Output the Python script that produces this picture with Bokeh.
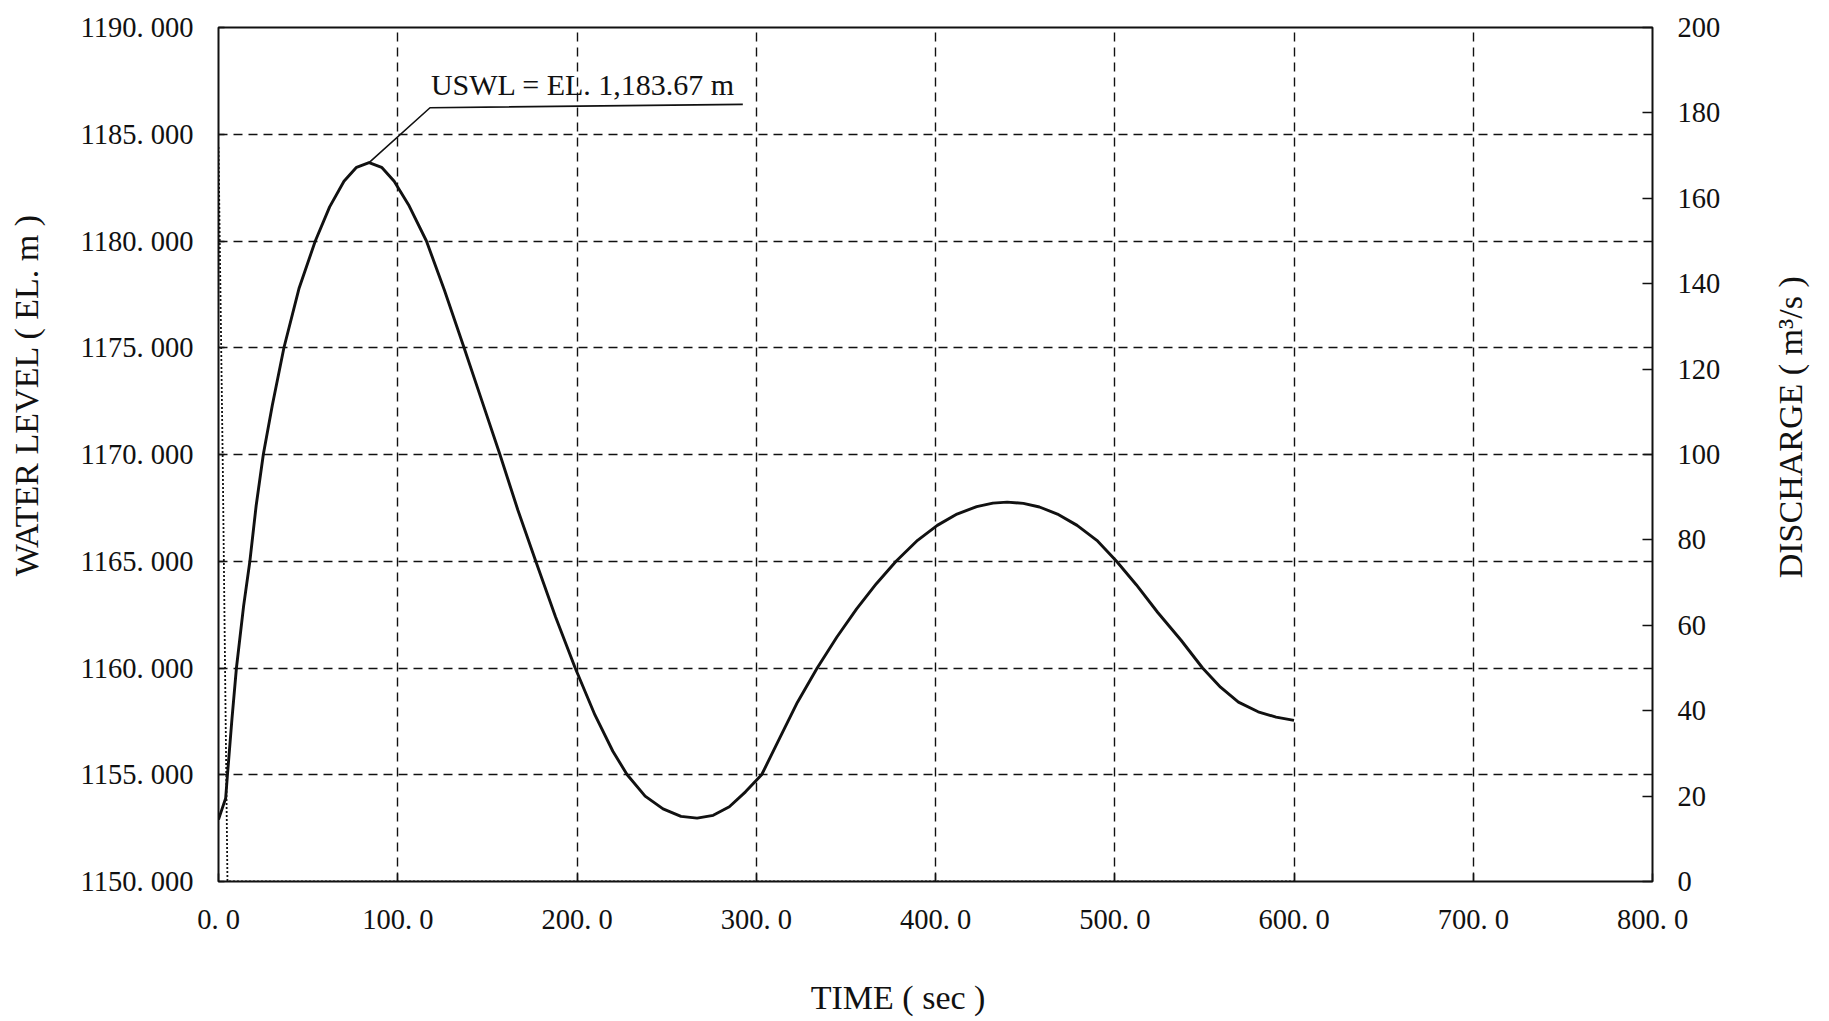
import math

from bokeh.core.properties import value
from bokeh.embed import file_html
from bokeh.layouts import row
from bokeh.models import FixedTicker, Label, LinearAxis, Range1d
from bokeh.plotting import figure
from bokeh.resources import INLINE

# Surge tank water level after load rejection (time in seconds, elevation in m)
time_s = [0, 2, 4, 5, 7.5, 10, 14, 17.5, 21, 25, 30, 36.5, 45, 54, 62, 70, 77, 84,
          91, 98, 106, 116, 126, 137, 147, 157, 167, 177, 188, 199, 210, 220, 228,
          238, 248, 258, 267, 276, 285, 294, 303, 313, 323, 334, 345, 356, 367, 378,
          390, 401, 412, 423, 432, 440, 449, 458, 468, 479, 490, 501, 512, 524, 537,
          549, 559, 569, 580, 590, 600]
water_level = [1152.9, 1153.4, 1153.9, 1155.0, 1157.6, 1160.0, 1162.9, 1165.0, 1167.6,
               1170.0, 1172.3, 1175.0, 1177.8, 1180.0, 1181.6, 1182.8, 1183.45, 1183.67,
               1183.45, 1182.8, 1181.7, 1180.0, 1177.7, 1175.0, 1172.5, 1170.0, 1167.4,
               1165.0, 1162.4, 1160.0, 1157.8, 1156.1, 1155.0, 1154.0, 1153.4, 1153.05,
               1152.97, 1153.1, 1153.5, 1154.2, 1155.0, 1156.7, 1158.4, 1160.0, 1161.45,
               1162.77, 1163.95, 1165.0, 1165.98, 1166.68, 1167.21, 1167.56, 1167.72,
               1167.77, 1167.71, 1167.54, 1167.21, 1166.68, 1165.98, 1165.0, 1163.9,
               1162.6, 1161.3, 1160.0, 1159.1, 1158.4, 1157.95, 1157.7, 1157.55]

# Turbine discharge during closure (m3/s)
q_time = [0, 2.4, 5, 600]
discharge = [172, 97, 0, 0]

x_ticks = [0, 100, 200, 300, 400, 500, 600, 700, 800]
x_tick_labels = ["0. 0", "100. 0", "200. 0", "300. 0", "400. 0", "500. 0",
                 "600. 0", "700. 0", "800. 0"]
level_ticks = [1150, 1155, 1160, 1165, 1170, 1175, 1180, 1185, 1190]
level_tick_labels = ["1150. 000", "1155. 000", "1160. 000", "1165. 000", "1170. 000",
                     "1175. 000", "1180. 000", "1185. 000", "1190. 000"]
q_ticks = [0, 20, 40, 60, 80, 100, 120, 140, 160, 180, 200]
q_tick_labels = ["0", "20", "40", "60", "80", "100", "120", "140", "160", "180", "200"]

FONT = "Liberation Serif"
INK = "#111111"

p = figure(frame_width=1434, frame_height=854,
           x_range=Range1d(0, 800), y_range=Range1d(1150, 1190),
           output_backend="svg", toolbar_location=None,
           min_border_left=218, min_border_right=107,
           min_border_top=27, min_border_bottom=140,
           background_fill_color="white", border_fill_color="white")
p.extra_y_ranges = {"q": Range1d(0, 200)}

p.outline_line_color = INK
p.outline_line_width = 2
p.outline_line_alpha = 1

# dashed grid
for g in (p.xgrid, p.ygrid):
    g.grid_line_color = INK
    g.grid_line_dash = "9 6"
    g.grid_line_width = 1.4
p.xgrid.ticker = FixedTicker(ticks=x_ticks[1:-1])
p.ygrid.ticker = FixedTicker(ticks=level_ticks[1:-1])


def style_axis(ax, ticks, labels, standoff, tick_in):
    ax.ticker = FixedTicker(ticks=ticks)
    ax.major_label_overrides = {t: s for t, s in zip(ticks, labels)}
    ax.major_label_text_font = FONT
    ax.major_label_text_font_size = "28.5px"
    ax.major_label_text_color = INK
    ax.major_label_standoff = standoff
    ax.major_tick_in = tick_in
    ax.major_tick_out = 0
    ax.major_tick_line_color = INK
    ax.major_tick_line_width = 1.5
    ax.minor_tick_line_color = None
    ax.axis_line_color = None
    ax.axis_label_text_font = FONT
    ax.axis_label_text_font_size = "34px"
    ax.axis_label_text_font_style = "normal"
    ax.axis_label_text_color = INK


style_axis(p.xaxis[0], x_ticks, x_tick_labels, 22, 8)
style_axis(p.yaxis[0], level_ticks, level_tick_labels, 25, 6)

q_axis = LinearAxis(y_range_name="q")
style_axis(q_axis, q_ticks, q_tick_labels, 25, 10)
p.add_layout(q_axis, "right")

# axis titles (em/en/thin spaces shift them off-centre along the axis)
p.yaxis[0].axis_label = "\u2003\u2003\u2003\u2002WATER LEVEL ( EL. m )"
p.yaxis[0].axis_label_standoff = 33
p.xaxis[0].axis_label = "TIME ( sec )\u2003\u2003\u2009"
p.xaxis[0].axis_label_standoff = 41

# curves
p.line(time_s, water_level, line_color=INK, line_width=2.9, line_join="round")
p.line(q_time, discharge, y_range_name="q", line_color=INK, line_width=1.8,
       line_dash="2 2")

# maximum surge annotation
i_peak = max(range(len(water_level)), key=lambda i: water_level[i])
t_peak, l_peak = time_s[i_peak], water_level[i_peak]
p.line([t_peak, 118, 292.5], [l_peak, 1186.24, 1186.4], line_color=INK, line_width=1.6)
p.add_layout(Label(x=118.5, y=1187.35, text=f"USWL = EL. {l_peak:,.2f} m",
                   text_font=FONT, text_font_size="30px", text_color=INK,
                   text_align="left", text_baseline="alphabetic"))

# narrow strip on the right carrying the discharge axis title, read bottom to top
strip = figure(width=70, height=1021, x_range=Range1d(0, 70), y_range=Range1d(0, 1021),
               output_backend="svg", toolbar_location=None,
               x_axis_type=None, y_axis_type=None,
               min_border=0, background_fill_color="white", border_fill_color="white")
strip.outline_line_color = None
strip.xgrid.visible = False
strip.ygrid.visible = False
strip.text(x=[31], y=[543], text=["DISCHARGE ( m\u00b3/s )"], angle=math.pi / 2,
           text_font=value(FONT), text_font_size="34px", text_color=INK,
           text_align="center", text_baseline="middle")

layout = row(p, strip, spacing=0)

open("out.html", "w").write(file_html(layout, INLINE))
